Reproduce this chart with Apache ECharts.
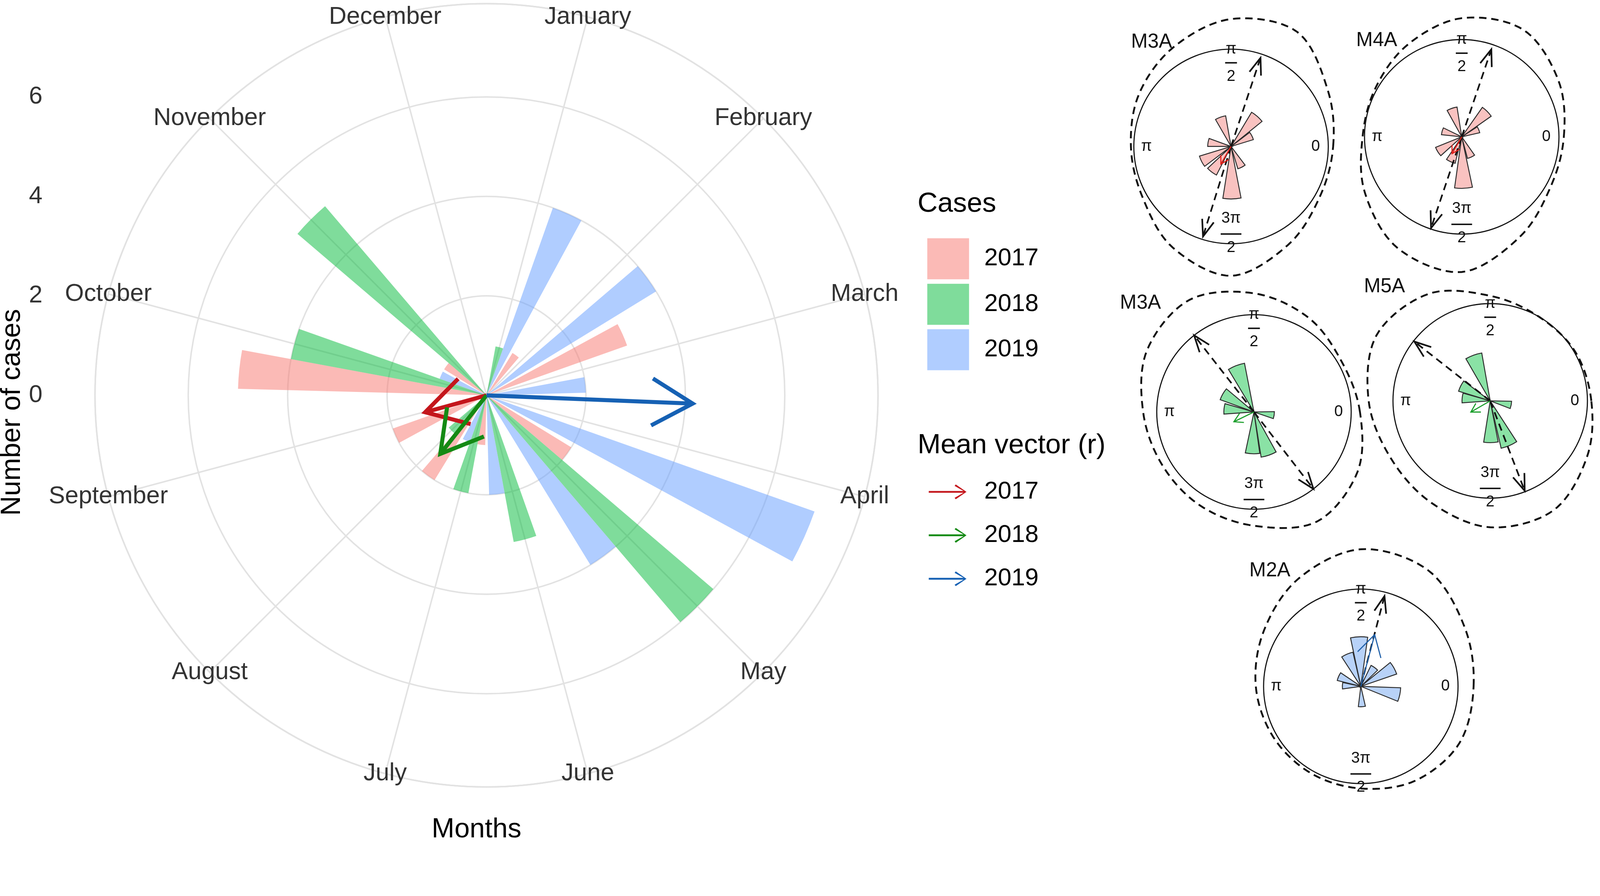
<!DOCTYPE html>
<html>
<head>
<meta charset="utf-8">
<script src="https://cdn.jsdelivr.net/npm/echarts@6/dist/echarts.min.js"></script>
<style>
html,body{margin:0;padding:0;background:#fff;overflow:hidden;width:100%;height:100%}
#c{width:100vw;height:100vh}
</style>
</head>
<body>
<div id="c"></div>
<script>
// ---------------- data: main rose chart ----------------
const MONTHS = ['January','February','March','April','May','June','July','August','September','October','November','December'];
const YEARS = ['2017','2018','2019'];
const CASES_2017 = [0, 1, 3, 0, 2, 0, 1, 2, 2, 5, 1, 0];
const CASES_2018 = [1, 0, 0, 0, 6, 3, 2, 1, 0, 4, 5, 0];
const CASES_2019 = [4, 4, 2, 7, 4, 2, 1, 0, 0, 1, 0, 0];
const R_TICKS = [0, 2, 4, 6];
const R_MAX = 7.875;
// mean vectors: direction in degrees clockwise from the top, length in cases
const VECTOR_ANGLE = [254.6, 218.3, 92.3];
const VECTOR_LENGTH = [1.28, 1.5, 4.15];

// ---------------- data: small circular plots ----------------
const INSET_NAMES = ['M3A', 'M4A', 'M3A', 'M5A', 'M2A'];
const INSET_YEAR = [0, 0, 1, 1, 2];
// petals: angle in degrees (counter-clockwise from 0), length relative to the unit circle
const PETAL_ANGLE = [
  [110, 49, 27, 170, 207, 233, 271, 297],
  [109, 45, 23, 164, 212, 246, 272, 295],
  [111, 150, 174, 351, 268, 289],
  [110, 153, 174, 349, 271, 293],
  [92, 113, 156, 178, 54, 29, 348, 273]
];
const PETAL_LENGTH = [
  [0.32, 0.41, 0.24, 0.24, 0.34, 0.33, 0.54, 0.24],
  [0.31, 0.37, 0.19, 0.21, 0.29, 0.28, 0.53, 0.23],
  [0.51, 0.37, 0.31, 0.21, 0.43, 0.47],
  [0.50, 0.34, 0.29, 0.22, 0.43, 0.50],
  [0.51, 0.36, 0.25, 0.19, 0.24, 0.39, 0.41, 0.21]
];
// dashed density outline, radius at each angle
const DENSITY_ANGLE = [0, 30, 60, 90, 120, 150, 180, 210, 240, 270, 300, 330];
const DENSITY_RADIUS = [
  [1.05, 1.15, 1.36, 1.31, 1.18, 1.09, 1.03, 1.05, 1.20, 1.33, 1.17, 1.05],
  [1.05, 1.15, 1.27, 1.22, 1.10, 1.02, 1.02, 1.15, 1.32, 1.39, 1.19, 1.05],
  [1.09, 1.04, 1.12, 1.22, 1.33, 1.27, 1.14, 1.09, 1.11, 1.17, 1.30, 1.23],
  [1.04, 1.01, 1.00, 1.08, 1.27, 1.35, 1.25, 1.18, 1.21, 1.30, 1.30, 1.15],
  [1.16, 1.23, 1.38, 1.41, 1.28, 1.15, 1.08, 1.04, 1.03, 1.05, 1.12, 1.17]
];
// dashed axial arrows
const AXIAL_ANGLE = [[71.6, 252.7], [71.3, 251.4], [128, 307.7], [142, 291], [75.3]];
const AXIAL_LENGTH = [[0.96, 0.97], [0.95, 0.99], [1.0, 1.0], [0.99, 0.99], [0.96]];
// solid mean vectors
const MEAN_ANGLE = [240, 240, 206, 210, 75];
const MEAN_LENGTH = [0.21, 0.20, 0.23, 0.23, 0.55];

// ---------------- layout & styles (designed for 4328 x 2293, scaled to the window) ----------------
const S = Math.min(window.innerWidth / 4328, window.innerHeight / 2293);
const px = v => v * S;
const FONT = 'Liberation Sans, Arial, Helvetica, sans-serif';
const CX = px(1316), CY = px(1069), R = px(1059);
const GRID = '#E2E2E2';
const BAR_COLORS = ['rgba(248,118,109,0.5)', 'rgba(0,186,56,0.5)', 'rgba(97,156,255,0.5)'];
const VEC_COLORS = ['#C4161C', '#148A14', '#1661B4'];
const INSET_FILL = ['#F9C2C0', '#8AE2A5', '#B8D2F8'];
const INSET_VEC = ['#E0201B', '#1B9E2B', '#1F5FA8'];
const INSET_CENTER = [[3330, 396], [3954, 370], [3392, 1114], [4031, 1084], [3681, 1856]];
const INSET_R = px(263);
const INSET_TITLE_POS = [[3115, 114], [3724, 110], [3085, 820], [3745, 776], [3435, 1544]];
const PETAL_WIDTH = 20;

const CASES = [CASES_2017, CASES_2018, CASES_2019];

function arrowEl(c, p, color, width, barbLen, barbDeg, dash) {
  const a = Math.atan2(p[1] - c[1], p[0] - c[0]);
  const ba = barbDeg * Math.PI / 180;
  const b1 = [p[0] - barbLen * Math.cos(a - ba), p[1] - barbLen * Math.sin(a - ba)];
  const b2 = [p[0] - barbLen * Math.cos(a + ba), p[1] - barbLen * Math.sin(a + ba)];
  return {
    type: 'group',
    children: [
      { type: 'line', shape: { x1: c[0], y1: c[1], x2: p[0], y2: p[1] },
        style: { stroke: color, lineWidth: width, lineDash: dash || null } },
      { type: 'polyline', shape: { points: [b1, p, b2] },
        style: { stroke: color, lineWidth: width, fill: null, lineJoin: 'miter' } }
    ]
  };
}

// closed Catmull-Rom curve through pixel points (rendering only)
function closedSpline(pts, steps) {
  const n = pts.length, out = [];
  for (let i = 0; i < n; i++) {
    const p0 = pts[(i - 1 + n) % n], p1 = pts[i], p2 = pts[(i + 1) % n], p3 = pts[(i + 2) % n];
    for (let k = 0; k < steps; k++) {
      const t = k / steps, t2 = t * t, t3 = t2 * t;
      const f = (a, b, c, d) => 0.5 * ((2 * b) + (-a + c) * t + (2 * a - 5 * b + 4 * c - d) * t2 + (-a + 3 * b - 3 * c + d) * t3);
      out.push([f(p0[0], p1[0], p2[0], p3[0]), f(p0[1], p1[1], p2[1], p3[1])]);
    }
  }
  return out;
}

const polar = [
  { center: [CX, CY], radius: R },
  { center: [CX, CY], radius: R }
];
const angleAxis = [
  { polarIndex: 0, type: 'category', data: MONTHS, startAngle: 90, clockwise: true, boundaryGap: true,
    axisLine: { show: true, lineStyle: { color: GRID, width: px(4) } },
    axisTick: { show: false, alignWithLabel: true },
    axisLabel: { show: false },
    splitLine: { show: true, lineStyle: { color: GRID, width: px(4) } }, z: 1 },
  { polarIndex: 1, type: 'value', min: 0, max: 360, startAngle: 90, clockwise: true, show: false }
];
const radiusAxis = [
  { polarIndex: 0, type: 'value', min: 0, max: R_MAX, interval: 2,
    axisLine: { show: false }, axisTick: { show: false }, axisLabel: { show: false },
    splitLine: { show: true, lineStyle: { color: GRID, width: px(4) } }, z: 1 },
  { polarIndex: 1, type: 'value', min: 0, max: R_MAX, show: false }
];

const series = [];
YEARS.forEach((y, k) => {
  series.push({
    type: 'bar', name: y, coordinateSystem: 'polar', polarIndex: 0,
    data: CASES[k], itemStyle: { color: BAR_COLORS[k] },
    barGap: '0%', barCategoryGap: '10%', z: 2, silent: true
  });
});
// month labels centred on the outer circle
series.push({
  type: 'custom', coordinateSystem: 'polar', polarIndex: 0, silent: true, z: 10,
  data: MONTHS.map(m => [R_MAX, m]),
  renderItem: (params, api) => {
    const p = api.coord([api.value(0), api.value(1)]);
    return { type: 'text', x: p[0], y: p[1],
      style: { text: MONTHS[params.dataIndex], fontSize: px(66), fill: '#333', fontFamily: FONT,
        align: 'center', verticalAlign: 'middle' } };
  }
});
// mean vectors
YEARS.forEach((y, k) => {
  series.push({
    type: 'custom', name: 'vec' + y, coordinateSystem: 'polar', polarIndex: 1, silent: true, z: 6,
    itemStyle: { color: VEC_COLORS[k] },
    data: [[VECTOR_LENGTH[k], VECTOR_ANGLE[k]]],
    renderItem: (params, api) => {
      const c = api.coord([0, api.value(1)]);
      const p = api.coord([api.value(0), api.value(1)]);
      return arrowEl(c, p, VEC_COLORS[k], px(11), px(127), 30);
    }
  });
});

const graphic = [];
// insets
INSET_NAMES.forEach((name, i) => {
  const pi = i + 2;
  const yr = INSET_YEAR[i];
  const cx = px(INSET_CENTER[i][0]), cy = px(INSET_CENTER[i][1]);
  polar.push({ center: [cx, cy], radius: INSET_R });
  angleAxis.push({ polarIndex: pi, type: 'value', min: 0, max: 360, startAngle: 0, clockwise: false,
    axisLine: { show: true, lineStyle: { color: '#111', width: px(3) } },
    axisTick: { show: false }, axisLabel: { show: false }, splitLine: { show: false } });
  radiusAxis.push({ polarIndex: pi, type: 'value', min: 0, max: 1, show: false });

  // dashed density outline
  series.push({
    type: 'custom', coordinateSystem: 'polar', polarIndex: pi, silent: true, z: 3,
    data: DENSITY_RADIUS[i].map((r, j) => [r, DENSITY_ANGLE[j]]),
    renderItem: (params, api) => {
      if (params.dataIndex !== 0) return null;
      const pts = DENSITY_RADIUS[i].map((r, j) => api.coord([r, DENSITY_ANGLE[j]]));
      return { type: 'polygon', shape: { points: closedSpline(pts, 12) },
        style: { fill: null, stroke: '#111', lineWidth: px(5), lineDash: [px(20), px(13)] } };
    }
  });
  // petals
  series.push({
    type: 'custom', coordinateSystem: 'polar', polarIndex: pi, silent: true, z: 4,
    data: PETAL_LENGTH[i].map((l, j) => [l, PETAL_ANGLE[i][j]]),
    renderItem: (params, api) => {
      const c = api.coord([0, 0]);
      const p = api.coord([api.value(0), api.value(1)]);
      const r = Math.hypot(p[0] - c[0], p[1] - c[1]);
      const a = Math.atan2(p[1] - c[1], p[0] - c[0]);
      const hw = PETAL_WIDTH / 2 * Math.PI / 180;
      return { type: 'sector',
        shape: { cx: c[0], cy: c[1], r0: 0, r: r, startAngle: a - hw, endAngle: a + hw, clockwise: true },
        style: { fill: INSET_FILL[yr], stroke: '#2a2a2a', lineWidth: px(2.5) } };
    }
  });
  // dashed axial arrows
  series.push({
    type: 'custom', coordinateSystem: 'polar', polarIndex: pi, silent: true, z: 5,
    data: AXIAL_LENGTH[i].map((l, j) => [l, AXIAL_ANGLE[i][j]]),
    renderItem: (params, api) => {
      const c = api.coord([0, api.value(1)]);
      const p = api.coord([api.value(0), api.value(1)]);
      return arrowEl(c, p, '#111', px(4.5), px(48), 20, [px(20), px(13)]);
    }
  });
  // solid mean vector
  series.push({
    type: 'custom', coordinateSystem: 'polar', polarIndex: pi, silent: true, z: 6,
    data: [[MEAN_LENGTH[i], MEAN_ANGLE[i]]],
    renderItem: (params, api) => {
      const c = api.coord([0, api.value(1)]);
      const p = api.coord([api.value(0), api.value(1)]);
      const len = Math.hypot(p[0] - c[0], p[1] - c[1]);
      return arrowEl(c, p, INSET_VEC[yr], px(3), len * 0.45, 30);
    }
  });

  // inset texts
  const r = INSET_R;
  const t = (txt, x, y, size) => ({ type: 'text', x: x, y: y, z: 20,
    style: { text: txt, fontSize: size, fill: '#111', fontFamily: FONT, align: 'center', verticalAlign: 'middle' } });
  graphic.push(t(name, px(INSET_TITLE_POS[i][0]), px(INSET_TITLE_POS[i][1]), px(54)));
  graphic.push(t('0', cx + 0.87 * r, cy, px(42)));
  graphic.push(t('π', cx - 0.87 * r, cy, px(42)));
  graphic.push(t('π', cx, cy - 1.0 * r, px(42)));
  graphic.push({ type: 'line', z: 20, shape: { x1: cx - px(16), y1: cy - 0.86 * r, x2: cx + px(16), y2: cy - 0.86 * r },
    style: { stroke: '#111', lineWidth: px(4) } });
  graphic.push(t('2', cx, cy - 0.72 * r, px(42)));
  graphic.push(t('3π', cx, cy + 0.74 * r, px(42)));
  graphic.push({ type: 'line', z: 20, shape: { x1: cx - px(28), y1: cy + 0.9 * r, x2: cx + px(28), y2: cy + 0.9 * r },
    style: { stroke: '#111', lineWidth: px(4) } });
  graphic.push(t('2', cx, cy + 1.04 * r, px(42)));
});

// titles
graphic.push({ type: 'text', x: px(34), y: px(1115), rotation: Math.PI / 2, z: 20,
  style: { text: 'Number of cases', fontSize: px(74), fill: '#000', fontFamily: FONT, align: 'center', verticalAlign: 'middle' } });
graphic.push({ type: 'text', x: px(1289), y: px(2244), z: 20,
  style: { text: 'Months', fontSize: px(74), fill: '#000', fontFamily: FONT, align: 'center', verticalAlign: 'middle' } });
graphic.push({ type: 'text', x: px(2482), y: px(552), z: 20,
  style: { text: 'Cases', fontSize: px(75), fill: '#000', fontFamily: FONT, align: 'left', verticalAlign: 'middle' } });
graphic.push({ type: 'text', x: px(2482), y: px(1205), z: 20,
  style: { text: 'Mean vector (r)', fontSize: px(75), fill: '#000', fontFamily: FONT, align: 'left', verticalAlign: 'middle' } });

const option = {
  animation: false,
  backgroundColor: '#ffffff',
  textStyle: { fontFamily: FONT },
  polar: polar,
  angleAxis: angleAxis,
  radiusAxis: radiusAxis,
  grid: [{ left: px(123), top: CY - R, width: px(10), height: R }],
  xAxis: [{ gridIndex: 0, type: 'value', show: false }],
  yAxis: [{ gridIndex: 0, type: 'value', min: 0, max: R_MAX, interval: 2,
    axisLine: { show: false }, axisTick: { show: false }, splitLine: { show: false },
    axisLabel: { fontSize: px(66), color: '#333', margin: px(8), fontFamily: FONT,
      formatter: v => (R_TICKS.indexOf(v) >= 0 ? String(v) : '') } }],
  legend: [
    { data: YEARS.map(y => ({ name: y, icon: 'rect' })), orient: 'vertical', left: px(2503), top: px(639),
      itemWidth: px(113), itemHeight: px(111), itemGap: px(12), selectedMode: false,
      textStyle: { fontSize: px(66), color: '#000', fontFamily: FONT, padding: [0, 0, 0, px(36)] } },
    { data: YEARS.map(y => ({ name: 'vec' + y })), orient: 'vertical', left: px(2507), top: px(1292),
      icon: 'path://M0,22.5 L94,22.5 L70,9 L73,5 L102,25 L73,45 L70,41 L94,27.5 L0,27.5 Z',
      itemWidth: px(102), itemHeight: px(50), itemGap: px(52), selectedMode: false,
      formatter: n => n.replace('vec', ''),
      textStyle: { fontSize: px(66), color: '#000', fontFamily: FONT, padding: [0, 0, 0, px(43)] } }
  ],
  graphic: graphic,
  series: series
};

const chart = echarts.init(document.getElementById('c'), null, { renderer: 'canvas' });
chart.setOption(option);
</script>
</body>
</html>
